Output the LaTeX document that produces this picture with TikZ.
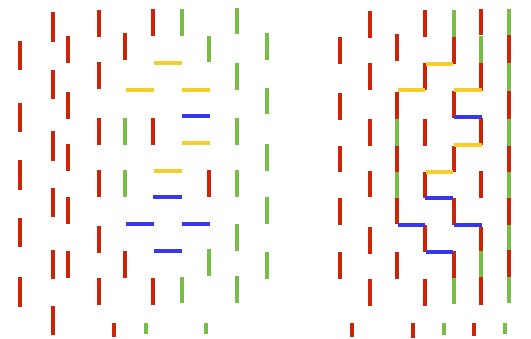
\documentclass[tikz,border=0pt]{standalone}
\usepackage{tikz}
\usepackage{xcolor}
\definecolor{barred}{RGB}{204,36,8}
\definecolor{bargreen}{RGB}{120,190,70}
\definecolor{baryellow}{RGB}{245,205,45}
\definecolor{barblue}{RGB}{55,55,238}
\begin{document}
\begin{tikzpicture}[x=1pt, y=-1pt,
    bar/.style={line width=3.3pt},
    redbar/.style={bar, draw=barred},
    greenbar/.style={bar, draw=bargreen},
    yellowbar/.style={bar, draw=baryellow},
    bluebar/.style={bar, draw=barblue}]
  \useasboundingbox (0,0) rectangle (531,339);

  % --- Left panel: vertical bars ---
  \foreach \x/\ya/\yb in {20/41/70, 20/103/132, 20/160/190, 20/218/247, 20/277/307,
      53/12/42, 53/70/99, 53/131/161, 53/188/217, 53/250/279, 53/306/335,
      68/36/63, 68/92/119, 68/144/171, 68/197/224, 68/251/278,
      99/10/37, 99/62/89, 99/118/145, 99/170/197, 99/226/253, 99/278/305,
      125/33/60, 125/251/278, 153/9/36, 153/118/145, 153/278/305,
      209/170/197, 114/323/337}
    \draw[redbar] (\x,\ya) -- (\x,\yb);
  \foreach \x/\ya/\yb in {125/118/145, 125/170/197, 182/9/36, 182/277/303,
      209/36/62, 209/249/276,
      237/8/34, 237/63/90, 237/118/145, 237/170/197, 237/224/251, 237/276/303,
      267/33/60, 267/88/114, 267/144/171, 267/197/224, 267/252/279,
      146/323/334, 206/323/334}
    \draw[greenbar] (\x,\ya) -- (\x,\yb);

  % --- Left panel: horizontal bars ---
  \foreach \xa/\xb/\y in {154/182/63, 126/154/90, 182/210/90, 182/210/143, 154/182/171}
    \draw[yellowbar] (\xa,\y) -- (\xb,\y);
  \foreach \xa/\xb/\y in {182/210/116, 153/182/197, 126/154/224, 182/210/224, 154/182/251}
    \draw[bluebar] (\xa,\y) -- (\xb,\y);

  % --- Right panel: vertical bars ---
  \foreach \x/\ya/\yb in {340/37/64, 340/93/120, 340/146/172, 340/198/225, 340/252/279,
      370/11/38, 370/63/90, 370/119/146, 370/171/197, 370/227/254, 370/279/306,
      397/34/61, 397/92/119, 397/146/172, 397/198/224, 397/252/279,
      425/10/37, 425/63/90, 425/119/146, 425/172/198, 425/225/252, 425/279/306,
      454/37/64, 454/91/118, 454/146/172, 454/198/225, 454/251/278,
      481/9/35, 481/63/91, 481/118/145, 481/171/198, 481/227/251, 481/277/305,
      509/35/63, 509/91/119, 509/146/172, 509/198/225, 509/250/277,
      352/323/337, 413/323/338, 474/323/336}
    \draw[redbar] (\x,\ya) -- (\x,\yb);
  \foreach \x/\ya/\yb in {397/119/146, 397/172/198, 454/10/37, 454/278/304,
      481/36/63, 481/251/277,
      509/9/35, 509/63/91, 509/119/146, 509/172/198, 509/225/250, 509/277/303,
      444/323/335, 505/323/334}
    \draw[greenbar] (\x,\ya) -- (\x,\yb);

  % --- Right panel: horizontal bars ---
  \foreach \xa/\xb/\y in {426/453/64, 398/425/90, 454/482/90, 454/482/145, 426/453/172}
    \draw[yellowbar] (\xa,\y) -- (\xb,\y);
  \foreach \xa/\xb/\y in {454/482/117, 425/453/198, 398/425/225, 454/482/225, 426/453/252}
    \draw[bluebar] (\xa,\y) -- (\xb,\y);
\end{tikzpicture}
\end{document}
